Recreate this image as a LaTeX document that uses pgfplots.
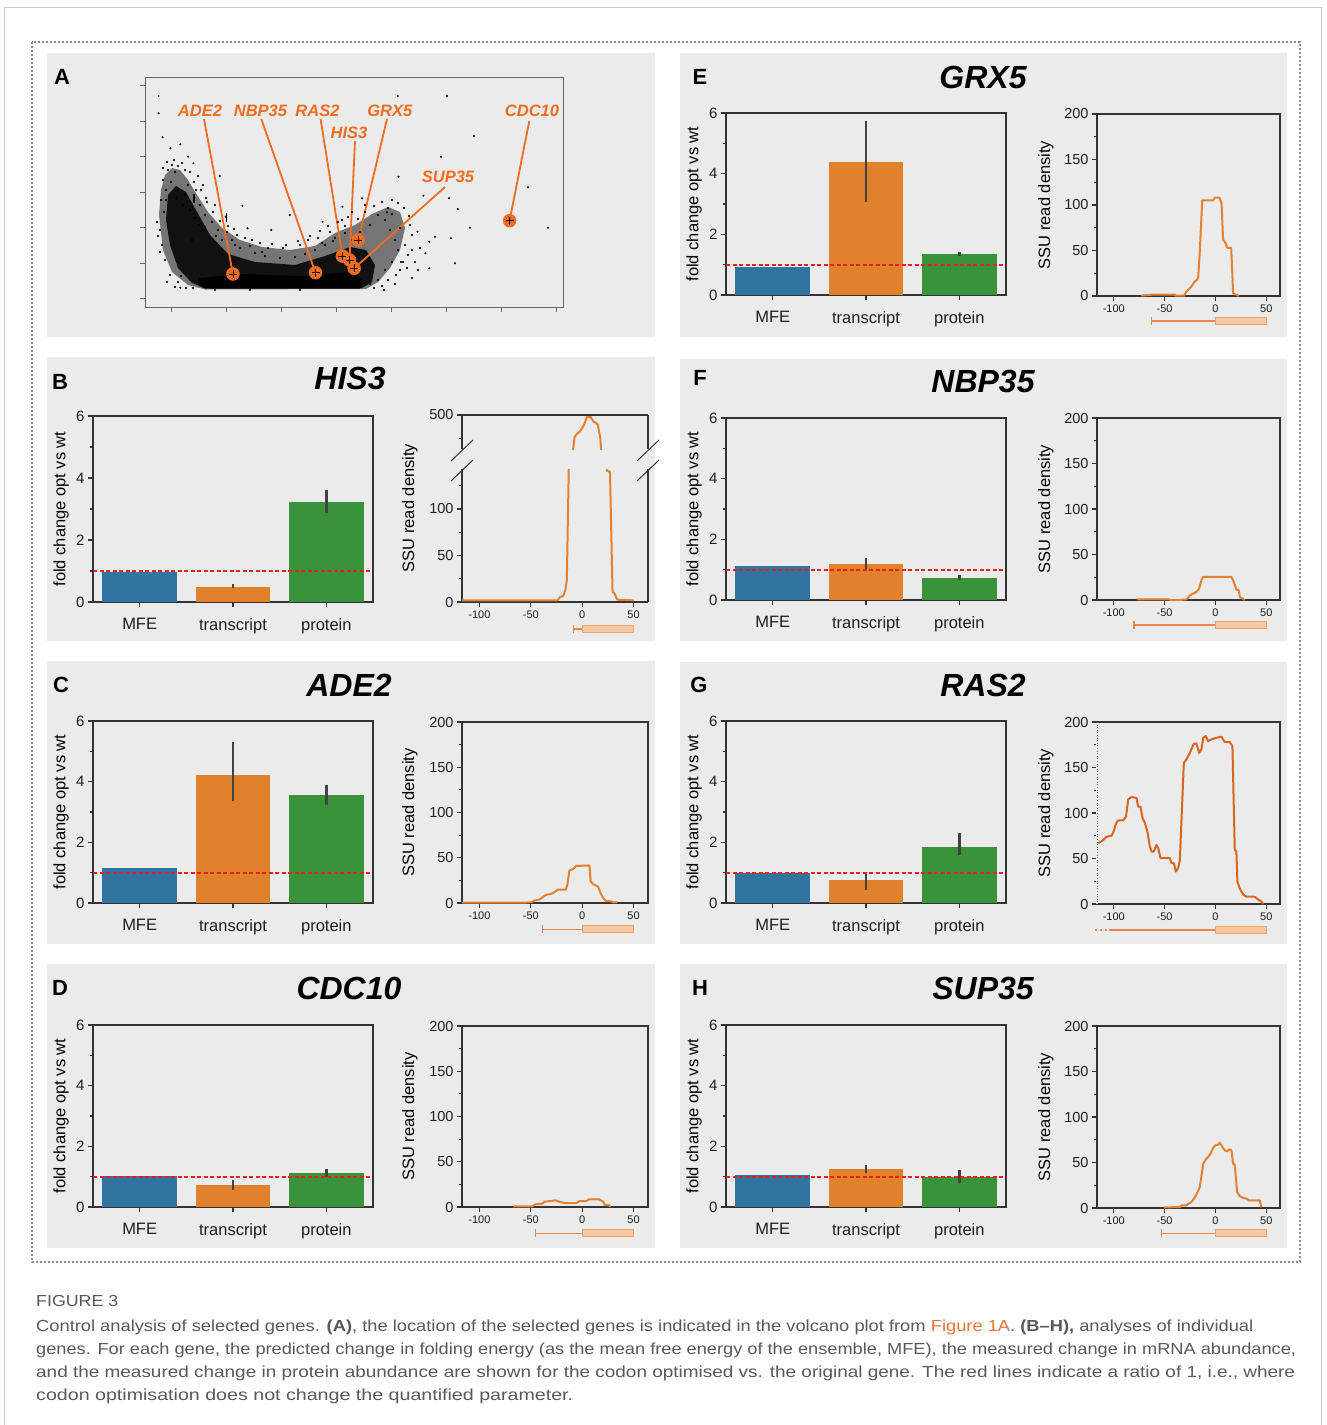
\documentclass[border=0pt]{standalone}
\usepackage{fontspec}
\setmainfont{Liberation Sans}
\usepackage{graphicx}
\usepackage{pgfplots}
\pgfplotsset{compat=1.18}

\definecolor{panelgray}{HTML}{EBEBEB}
\definecolor{axgray}{HTML}{333333}
\definecolor{cblue}{HTML}{3274A1}
\definecolor{corange}{HTML}{E1812C}
\definecolor{cgreen}{HTML}{3A923A}
\definecolor{errgray}{HTML}{424242}
\definecolor{ssuor}{HTML}{E5802E}
\definecolor{ssuorG}{HTML}{D9651F}
\definecolor{geneline}{HTML}{E8874A}
\definecolor{genefill}{HTML}{FAC8A0}
\definecolor{genedraw}{HTML}{F0A46C}
\definecolor{volc}{HTML}{F26C1F}
\definecolor{capgray}{HTML}{595959}
\definecolor{caplink}{HTML}{E9743A}
\definecolor{redl}{HTML}{E32119}

\newcommand{\myfs}[1]{\fontsize{#1}{#1}\selectfont}

\pgfplotsset{
 common/.style={scale only axis, anchor=south west,
   axis line style={draw=axgray, line width=1.4pt},
   tick align=outside, tick pos=left,
   major tick length=5pt, minor tick length=3pt,
   every tick/.style={draw=axgray, line width=1.1pt},
   /pgf/number format/assume math mode=true,
   tick label style={text=black!88}},
 barax/.style={common, width=280pt, height=182pt,
   xmin=-0.5, xmax=2.5, ymin=0, ymax=6,
   ytick={0,2,4,6}, minor ytick={1,3,5},
   xtick={0,1,2}, xticklabels={\raisebox{-5pt}{MFE},transcript,protein},
   yticklabel style={font=\myfs{15}},
   xticklabel style={font=\myfs{16.5}, yshift=-8pt},
   ylabel={fold change opt vs wt},
   ylabel style={font=\myfs{16.5}, at={(axis description cs:-0.114,0.5)}, anchor=center}},
 ssuax/.style={common, ymin=0, ymax=200,
   ytick={0,50,100,150,200}, minor ytick={25,75,125,175},
   xtick={-100,-50,0,50},
   yticklabel style={font=\myfs{14.5}},
   xticklabel style={font=\myfs{11}},
   ylabel={SSU read density},
   ylabel style={font=\myfs{16.5}, at={(axis description cs:-0.28,0.5)}, anchor=center}},
 ssuleft/.style={ssuax, width=186pt, height=181pt, xmin=-117, xmax=64},
 ssuright/.style={ssuax, width=183pt, height=182pt, xmin=-116.5, xmax=63.5},
 mybar/.style={ybar, bar width=0.8, bar shift=0pt, draw=none},
 errb/.style={draw=errgray, line width=2.4pt},
 redline/.style={draw=redl, line width=2pt, dash pattern=on 4pt off 2.5pt},
 ssuline/.style={draw=ssuor, line width=2pt, line join=round},
}

\newcommand{\gene}[4]{%
 \draw[geneline, line width=1.5pt] (#2,#1) -- (#3,#1);
 \draw[geneline, line width=1.3pt] (#2,#1-4) -- (#2,#1+4);
 \fill[genefill, draw=genedraw, line width=0.8pt] (#3,#1-3.5) rectangle (#4,#1+3.5);
}

\begin{document}
\begin{tikzpicture}
\begin{scope}[x=1pt,y=-1pt]
\useasboundingbox (0,0) rectangle (1326,1425);
\fill[white] (0,0) rectangle (1326,1425);
\draw[black!22, line width=1pt] (4,1425) -- (4,7.5) -- (1321.5,7.5) -- (1321.5,1425);
\draw[black!45, line width=1.6pt, dash pattern=on 1.6pt off 2.4pt] (32,42) rectangle (1300,1262);
\fill[panelgray] (47,53) rectangle (655,337);
\fill[panelgray] (47,357) rectangle (655,641);
\fill[panelgray] (47,661) rectangle (655,944);
\fill[panelgray] (47,964) rectangle (655,1248);
\fill[panelgray] (680,53) rectangle (1287,337);
\fill[panelgray] (680,359) rectangle (1287,641);
\fill[panelgray] (680,662) rectangle (1287,944);
\fill[panelgray] (680,964) rectangle (1287,1248);
\end{scope}

% ---------------- Panel A: volcano plot ----------------
\begin{axis}[scale only axis, anchor=south west, at={(145pt,-307pt)},
  width=418pt, height=230pt, xmin=145, xmax=563, ymin=-307, ymax=-77,
  xtick={171.6,226.6,281.5,336.4,391.4,446.3,501.3,556.2},
  ytick={-298.7,-263.3,-227.7,-192.3,-156.7,-121,-85.7},
  xticklabels={}, yticklabels={}, tick align=outside, tick pos=left,
  major tick length=5pt,
  axis line style={draw=black!60, line width=1pt},
  every tick/.style={draw=black!60, line width=1pt}]
\addplot[fill=black, fill opacity=0.5, draw=none] coordinates {
 (159,-215) (161,-190) (165,-175) (172,-168) (180,-170) (188,-180) (197,-195) (208,-212)
 (222,-228) (240,-240) (262,-247) (290,-250) (315,-246) (335,-233) (355,-225) (372,-214)
 (388,-207) (400,-212) (405,-228) (400,-250) (390,-268) (378,-282) (366,-289) (205,-289.5)
 (188,-285) (172,-272) (163,-250)} -- cycle;
\addplot[fill=black, fill opacity=0.85, draw=none] coordinates {
 (168,-195) (176,-186) (186,-192) (196,-210) (210,-235) (228,-254) (255,-262) (295,-265)
 (325,-256) (350,-247) (366,-250) (375,-265) (372,-282) (362,-288) (210,-288.5) (192,-283)
 (178,-268) (170,-245) (166,-220)} -- cycle;
\addplot[fill=black, draw=none] coordinates {
 (200,-278) (240,-274) (300,-276) (350,-272) (362,-280) (360,-288.5) (205,-288.5) (195,-284)} -- cycle;
\addplot[only marks, mark=*, mark size=0.8pt, black] coordinates {
 (158.6,-96) (158.6,-113.3) (162.5,-137.3) (170.4,-148.3) (180.3,-144.3) (397.7,-96)
 (447,-96) (474,-136) (441,-156.7) (398.5,-176.7) (528,-187.3) (423.4,-195.7)
 (449,-198.3) (457.8,-209) (470,-227.7) (548,-227.7) (451,-238.3) (455,-263.3)
 (242.4,-205.7) (219.8,-176) (247.5,-228.3) (271.2,-230) (289.8,-215) (322.6,-221.7)
 (342.4,-206.7) (362,-198.3) (387,-212.3) (417.5,-231.7) (429.3,-241.7) (435,-236.7)
 (425.4,-253.3) (429.3,-268.3) (180.3,-287.7) (188.2,-156.7) (193.4,-163.3) (225.8,-216.7)
 (163,-180) (166,-190) (168,-170) (172,-165) (175,-172) (178,-166) (185,-170) (188,-185)
 (196,-190) (200,-205) (205,-215) (212,-222) (218,-230) (222,-240) (232,-240) (240,-248)
 (255,-253) (265,-256) (280,-258) (295,-257) (305,-254) (315,-250) (325,-245) (335,-238)
 (345,-233) (352,-240) (360,-232) (370,-225) (378,-215) (385,-220) (390,-230) (395,-240)
 (400,-228) (398,-250) (392,-262) (385,-270) (378,-280) (370,-284) (160,-230) (162,-245)
 (165,-260) (170,-275) (178,-282) (186,-288) (195,-218) (183,-205) (176,-198) (192,-240)
 (388,-208) (392,-214) (410,-225) (405,-245) (415,-262) (400,-270) (352,-212) (342,-220)
 (330,-232) (318,-238) (308,-240) (300,-245) (283,-248) (268,-248) (250,-246) (237,-235)
 (228,-226) (215,-205) (206,-198) (203,-185) (198,-176)
 (157,-222) (158,-236) (160,-252) (161,-200) (163,-168) (167,-162) (174,-160) (182,-163)
 (190,-172) (194,-182) (201,-190) (207,-202) (213,-212) (220,-221) (227,-232) (234,-229)
 (245,-238) (252,-240) (260,-243) (272,-244) (286,-245) (298,-241) (310,-236) (320,-231)
 (328,-226) (338,-222) (348,-217) (358,-219) (365,-212) (374,-206) (382,-202) (392,-200)
 (398,-203) (404,-208) (409,-216) (412,-235) (408,-255) (403,-262) (396,-275) (388,-280)
 (382,-286) (374,-288) (167,-282) (175,-287) (181,-276) (193,-288) (420,-248) (418,-270)
 (412,-278) (395,-284) (384,-290) (300,-290) (250,-290) (215,-290) (365,-205) (345,-226)
 (333,-241) (322,-243) (262,-252) (235,-245) (216,-236) (205,-227) (199,-225) (190,-210)
 (185,-195) (178,-190) (171,-182) (166,-200) (164,-212) (401,-262) (407,-268) (412,-250)};
\addplot[black, line width=1.6pt] coordinates {(226.6,-213) (226.6,-222)};
\addplot[black, line width=1.6pt] coordinates {(194,-194) (194,-203)};
\draw[volc, line width=1.8pt] (axis cs:204,-119) -- (axis cs:232.9,-274);
\draw[volc, line width=1.8pt] (axis cs:261.3,-119) -- (axis cs:315.5,-272.7);
\draw[volc, line width=1.8pt] (axis cs:320.6,-119) -- (axis cs:342.4,-256);
\draw[volc, line width=1.8pt] (axis cs:355,-141) -- (axis cs:349.5,-260);
\draw[volc, line width=1.8pt] (axis cs:387,-119) -- (axis cs:358.2,-240);
\draw[volc, line width=1.8pt] (axis cs:445,-187) -- (axis cs:354.2,-268.3);
\draw[volc, line width=1.8pt] (axis cs:529.3,-121) -- (axis cs:509.6,-220.7);
\addplot[only marks, mark=*, mark size=6.5pt, draw=volc, fill=volc] coordinates {
 (232.9,-274) (315.5,-272.7) (342.4,-256) (349.5,-260) (354.2,-268.3) (358.2,-240) (509.6,-220.7)};
\addplot[only marks, mark=+, mark size=4pt, black, line width=0.8pt] coordinates {
 (232.9,-274) (315.5,-272.7) (342.4,-256) (349.5,-260) (354.2,-268.3) (358.2,-240) (509.6,-220.7)};
\node[font=\myfs{16.5}\bfseries\itshape, text=volc] at (axis cs:200,-111) {ADE2};
\node[font=\myfs{16.5}\bfseries\itshape, text=volc] at (axis cs:260.5,-111) {NBP35};
\node[font=\myfs{16.5}\bfseries\itshape, text=volc] at (axis cs:317.5,-111) {RAS2};
\node[font=\myfs{16.5}\bfseries\itshape, text=volc] at (axis cs:349,-132.7) {HIS3};
\node[font=\myfs{16.5}\bfseries\itshape, text=volc] at (axis cs:389.8,-111) {GRX5};
\node[font=\myfs{16.5}\bfseries\itshape, text=volc] at (axis cs:448,-176.7) {SUP35};
\node[font=\myfs{16.5}\bfseries\itshape, text=volc] at (axis cs:532,-111) {CDC10};
\end{axis}

% ---------------- Panel B: HIS3 ----------------
\begin{axis}[barax, at={(93pt,-602pt)}, height=186pt]
\addplot[mybar, fill=cblue] coordinates {(0,0.96)};
\addplot[mybar, fill=corange] coordinates {(1,0.50)};
\addplot[mybar, fill=cgreen] coordinates {(2,3.24)};
\addplot[errb] coordinates {(1,0.45) (1,0.57)};
\addplot[errb] coordinates {(2,2.87) (2,3.60)};
\addplot[redline] coordinates {(-0.5,1) (2.5,1)};
\end{axis}
\begin{axis}[ssuleft, at={(462pt,-602pt)}, height=133pt, ymin=0, ymax=143,
  ytick={0,50,100}, minor ytick={25,75,125},
  axis x line*=bottom, axis y line*=box, xtick pos=left, ytick pos=left, yticklabel pos=left,
  ylabel style={at={(axis description cs:-0.28,0.707)}}]
\addplot[ssuline] coordinates {
 (-117,1.8) (-24,1.8) (-21.5,5.5) (-18.5,6.5) (-16.5,12.5) (-15,23.5) (-13,150) (-9,462)
 (-7.5,476) (-5,480) (-2.5,482) (0,486) (2,490) (4.5,498) (8,498) (11,493) (15,490)
 (17.5,476) (18.5,462) (23.5,150) (24,141) (27,140) (29.5,11) (31.5,9) (34,2.5) (50,1.8)};
\end{axis}
\begin{axis}[ssuleft, at={(462pt,-449pt)}, height=34pt, ymin=463.4, ymax=500,
  ytick={500}, minor ytick={475}, ylabel={},
  hide x axis, axis y line*=box, ytick pos=left, yticklabel pos=left]
\addplot[ssuline] coordinates {
 (-117,1.8) (-24,1.8) (-21.5,5.5) (-18.5,6.5) (-16.5,12.5) (-15,23.5) (-13,150) (-9,462)
 (-7.5,476) (-5,480) (-2.5,482) (0,486) (2,490) (4.5,498) (8,498) (11,493) (15,490)
 (17.5,476) (18.5,462) (23.5,150) (24,141) (27,140) (29.5,11) (31.5,9) (34,2.5) (50,1.8)};
\end{axis}

% ---------------- Panel C: ADE2 ----------------
\begin{axis}[barax, at={(93pt,-903pt)}]
\addplot[mybar, fill=cblue] coordinates {(0,1.15)};
\addplot[mybar, fill=corange] coordinates {(1,4.22)};
\addplot[mybar, fill=cgreen] coordinates {(2,3.56)};
\addplot[errb] coordinates {(1,3.36) (1,5.32)};
\addplot[errb] coordinates {(2,3.23) (2,3.90)};
\addplot[redline] coordinates {(-0.5,1) (2.5,1)};
\end{axis}
\begin{axis}[ssuleft, at={(462pt,-903pt)}]
\addplot[ssuline] coordinates {
 (-117,0.3) (-58,0.3) (-49,1) (-47,2.6) (-42,3.7) (-39,5.9) (-35.5,9) (-30.5,10)
 (-27.3,11.8) (-24,14.7) (-16,14.7) (-14.5,20) (-12.5,36) (-9.2,37.5) (-7.6,39) (-5.9,41)
 (7,41.5) (8.2,24) (10.5,21) (15.5,18) (17.8,11) (20.4,5.5) (23,2.2) (28.6,1.8) (30,0.7) (34,0.7)};
\end{axis}

% ---------------- Panel D: CDC10 ----------------
\begin{axis}[barax, at={(93pt,-1207pt)}]
\addplot[mybar, fill=cblue] coordinates {(0,1.02)};
\addplot[mybar, fill=corange] coordinates {(1,0.73)};
\addplot[mybar, fill=cgreen] coordinates {(2,1.12)};
\addplot[errb] coordinates {(1,0.56) (1,0.89)};
\addplot[errb] coordinates {(2,0.99) (2,1.25)};
\addplot[redline] coordinates {(-0.5,1) (2.5,1)};
\end{axis}
\begin{axis}[ssuleft, at={(462pt,-1207pt)}]
\addplot[ssuline] coordinates {
 (-67,0.7) (-48.7,0.7) (-45.4,3) (-38.8,3.7) (-37,5.9) (-30.6,6.6) (-25.7,7.4) (-22.4,5.9)
 (-17.4,4.4) (-5.9,4.4) (-2.6,6.6) (4,6.6) (6.6,8.5) (16.4,8.5) (20.4,5.9) (22,2.2)
 (26.3,2.2) (27,0)};
\end{axis}

% ---------------- Panel E: GRX5 ----------------
\begin{axis}[barax, at={(726pt,-295pt)}]
\addplot[mybar, fill=cblue] coordinates {(0,0.91)};
\addplot[mybar, fill=corange] coordinates {(1,4.40)};
\addplot[mybar, fill=cgreen] coordinates {(2,1.35)};
\addplot[errb] coordinates {(1,3.08) (1,5.73)};
\addplot[errb] coordinates {(2,1.29) (2,1.43)};
\addplot[redline] coordinates {(-0.5,1) (2.5,1)};
\end{axis}
\begin{axis}[ssuright, at={(1097pt,-296pt)}]
\addplot[ssuline] coordinates {
 (-73,0.5) (-62,1.5) (-40,1.5) (-39,0.3) (-31,0.3) (-28.5,5) (-24,10) (-21,15) (-18,18)
 (-17,20) (-15.5,47) (-13,105) (-2.5,105) (-0.5,108) (4,108) (6,102) (7.5,62) (10,58)
 (11.5,53) (15.5,53) (17.4,3) (19,2) (23,0.3)};
\end{axis}

% ---------------- Panel F: NBP35 ----------------
\begin{axis}[barax, at={(726pt,-600pt)}]
\addplot[mybar, fill=cblue] coordinates {(0,1.12)};
\addplot[mybar, fill=corange] coordinates {(1,1.18)};
\addplot[mybar, fill=cgreen] coordinates {(2,0.73)};
\addplot[errb] coordinates {(1,0.98) (1,1.38)};
\addplot[errb] coordinates {(2,0.66) (2,0.82)};
\addplot[redline] coordinates {(-0.5,1) (2.5,1)};
\end{axis}
\begin{axis}[ssuright, at={(1097pt,-600pt)}]
\addplot[ssuline] coordinates {
 (-77.6,0.7) (-46.5,0.7) (-44,0) (-35,0) (-28.5,0.7) (-25.2,5) (-22,7) (-18.7,8.8)
 (-16,12.5) (-13.8,21.7) (-12,25.4) (15.7,25.4) (18,20) (20.6,11.4) (23,10.7) (24,3.3)
 (27,1.5) (28.8,0)};
\end{axis}

% ---------------- Panel G: RAS2 ----------------
\begin{axis}[barax, at={(726pt,-903pt)}]
\addplot[mybar, fill=cblue] coordinates {(0,0.99)};
\addplot[mybar, fill=corange] coordinates {(1,0.76)};
\addplot[mybar, fill=cgreen] coordinates {(2,1.85)};
\addplot[errb] coordinates {(1,0.43) (1,0.99)};
\addplot[errb] coordinates {(2,1.58) (2,2.31)};
\addplot[redline] coordinates {(-0.5,1) (2.5,1)};
\end{axis}
\begin{axis}[ssuright, at={(1097pt,-904pt)}]
\addplot[ssuline, draw=ssuorG] coordinates {
 (-115.3,66.9) (-110.7,69.9) (-107,74) (-102.2,75) (-100,80) (-98,88) (-95.6,92) (-90.7,92)
 (-88,96) (-85.8,115) (-82.5,117.6) (-77.6,116.5) (-76,107) (-73.7,107) (-71.7,94.5)
 (-69.4,89) (-67,80) (-64.5,63) (-62.8,57.7) (-60.6,57.7) (-58,65) (-56.3,61.4) (-54,50.4)
 (-44.9,50.4) (-43.2,44.9) (-40.9,44.9) (-39,35.7) (-36.7,39.3) (-35,48.5) (-31.1,155)
 (-28.5,159) (-25.2,166) (-21.3,176) (-18.7,176.5) (-16,166) (-13.8,170) (-12,182.7)
 (-9.5,184.6) (-7.2,179) (-3.9,181) (1,182.7) (5.9,183.8) (9.2,178) (14,178) (16.7,173.5)
 (19,59.6) (20.6,57.7) (21.6,24.6) (23.9,17.3) (25.5,13.6) (27.8,10) (30.5,8) (38.7,8)
 (41.9,5) (45.2,2.6) (46.8,0)};
\end{axis}

% ---------------- Panel H: SUP35 ----------------
\begin{axis}[barax, at={(726pt,-1207pt)}]
\addplot[mybar, fill=cblue] coordinates {(0,1.05)};
\addplot[mybar, fill=corange] coordinates {(1,1.25)};
\addplot[mybar, fill=cgreen] coordinates {(2,0.99)};
\addplot[errb] coordinates {(1,1.12) (1,1.38)};
\addplot[errb] coordinates {(2,0.79) (2,1.22)};
\addplot[redline] coordinates {(-0.5,1) (2.5,1)};
\end{axis}
\begin{axis}[ssuright, at={(1097pt,-1208pt)}]
\addplot[ssuline] coordinates {
 (-50.8,0.7) (-35,1) (-33.4,3) (-28.5,3) (-26.9,4.4) (-23.6,6.6) (-21.3,10) (-18.7,14.7)
 (-15.4,23) (-12,48.7) (-9.5,53.5) (-7.2,56) (-4.9,59.7) (-2.3,66) (0,69) (2.6,69.6)
 (4.3,71.8) (6.9,67) (9.2,63.4) (11.5,62.3) (13.4,64.5) (15.7,63.4) (17.4,48.7) (19,47.6)
 (21.3,17.6) (23.9,13.2) (27.8,11) (30.5,10.3) (33,8.4) (43.6,8.4) (45.2,0.7)};
\end{axis}

% ---------------- annotations ----------------
\begin{scope}[x=1pt,y=-1pt]
% top spine of HIS3 density and axis breaks
\draw[axgray, line width=1.4pt] (462,415) -- (648,415);
\draw[axgray, line width=1pt] (451,461) -- (473,440);
\draw[axgray, line width=1pt] (451,481) -- (473,460);
\draw[axgray, line width=1pt] (637,461) -- (659,440);
\draw[axgray, line width=1pt] (637,481) -- (659,460);
% dotted left spine for RAS2 density
\draw[panelgray, line width=2.4pt] (1097,723) -- (1097,903.5);
\draw[black!60, line width=0.9pt, dash pattern=on 1pt off 1.6pt] (1097,722) -- (1097,904);
% gene diagrams
\gene{629}{573.6}{582.2}{633.6}
\gene{929.3}{542.4}{582.2}{633.6}
\gene{1233.3}{535.6}{582.2}{633.6}
\gene{321}{1151.5}{1215.4}{1266.2}
\gene{625}{1133.9}{1215.4}{1266.2}
\draw[geneline, line width=1.5pt] (1109,930) -- (1215.4,930);
\draw[geneline, line width=1.5pt, dash pattern=on 2pt off 3pt] (1095,930) -- (1108,930);
\fill[genefill, draw=genedraw, line width=0.8pt] (1215.4,926.5) rectangle (1266.2,933.5);
\gene{1233.3}{1161.6}{1215.4}{1266.2}
% panel letters
\foreach \L/\px/\py in {A/62/77, B/60/382, C/61/685, D/60/988, E/700/77, F/700/378, G/699/685, H/700/988}
  \node[font=\myfs{22}\bfseries] at (\px,\py) {\L};
% titles
\foreach \T/\px/\py in {HIS3/350/378, ADE2/349/685, CDC10/349/988, GRX5/983/77, NBP35/983/381, RAS2/983/685, SUP35/983/988}
  \node[font=\myfs{32}\bfseries\itshape] at (\px,\py) {\T};
% caption
\node[anchor=base west, inner sep=0pt, text=capgray, font=\myfs{16}] at (36,1306) {\resizebox{82pt}{\height}{FIGURE 3}};
\node[anchor=base west, inner sep=0pt, text=capgray, font=\myfs{16}] at (36,1331) {\resizebox{1217pt}{\height}{Control analysis of selected genes. \textbf{(A)}, the location of the selected genes is indicated in the volcano plot from \textcolor{caplink}{Figure 1A}. \textbf{(B–H),} analyses of individual}};
\node[anchor=base west, inner sep=0pt, text=capgray, font=\myfs{16}] at (36,1354) {\resizebox{1260pt}{\height}{genes. For each gene, the predicted change in folding energy (as the mean free energy of the ensemble, MFE), the measured change in mRNA abundance,}};
\node[anchor=base west, inner sep=0pt, text=capgray, font=\myfs{16}] at (36,1377) {\resizebox{1259pt}{\height}{and the measured change in protein abundance are shown for the codon optimised vs. the original gene. The red lines indicate a ratio of 1, i.e., where}};
\node[anchor=base west, inner sep=0pt, text=capgray, font=\myfs{16}] at (36,1400) {\resizebox{537pt}{\height}{codon optimisation does not change the quantified parameter.}};
\end{scope}
\end{tikzpicture}
\end{document}
